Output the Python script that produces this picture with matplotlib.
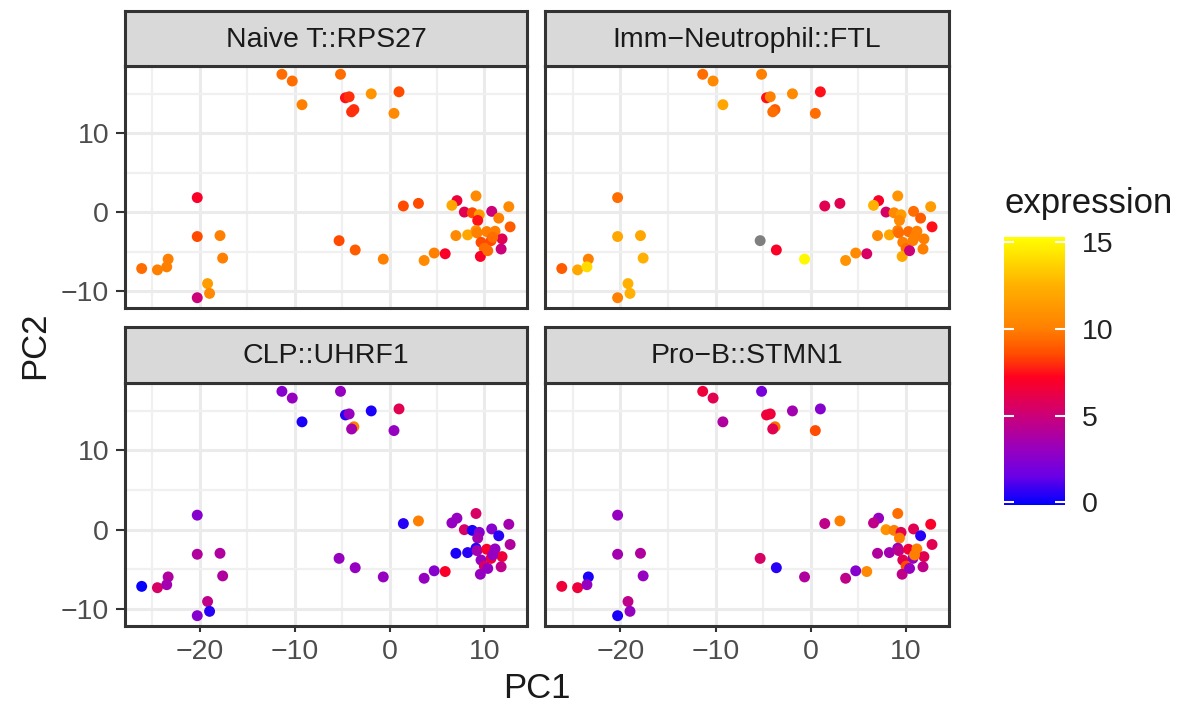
import numpy as np
import matplotlib
matplotlib.use("Agg")
import matplotlib.pyplot as plt
from matplotlib.colors import LinearSegmentedColormap, Normalize

# DATOS: coordenadas PCA de cada celula (igual en los 4 paneles)
# ==============================================================
pc1 = [-11.35, -10.26, -9.23, -5.17, -4.65, -4.26, -3.76, -4.0, -1.93, 1.0, 0.47,
       -20.28, -20.28, -17.88, -17.6, -26.14, -24.48, -23.35, -23.5, -19.19, -18.98, -20.28,
       -5.32, -3.62, -0.66, 1.46, 3.05, 3.65, 4.71, 5.87,
       9.12, 7.11, 6.58, 7.89, 8.73, 9.47, 9.3, 10.78, 12.58, 11.52, 12.72, 7.0, 8.24,
       9.12, 9.23, 10.25, 11.13, 11.87, 10.71, 9.65, 10.0, 11.77, 9.58, 10.88, 10.36]
pc2 = [17.45, 16.6, 13.6, 17.45, 14.47, 14.6, 12.98, 12.7, 14.98, 15.23, 12.5,
       1.83, -3.1, -2.98, -5.83, -7.15, -7.32, -5.96, -6.94, -9.06, -10.3, -10.85,
       -3.62, -4.8, -5.96, 0.77, 1.1, -6.13, -5.19, -5.28,
       2.04, 1.45, 0.85, 0.0, -0.09, -0.34, -1.06, 0.09, 0.68, -0.77, -1.87, -2.98, -2.89,
       -2.34, -2.64, -2.47, -2.43, -3.4, -3.62, -3.83, -4.6, -4.68, -5.62, -3.19, -4.89]

# expresion por gen (NaN = sin dato, gris)
expr_rps27 = [9.5, 9.5, 10, 9.5, 7.5, 8, 8, 8, 11, 8.5, 10.5,
              7, 8.5, 10, 10, 9.5, 10, 10, 10, 11.5, 10.5, 5,
              8.5, 9, 10, 8.5, 8.5, 10.5, 10, 7,
              10.5, 6.5, 12, 6, 8.5, 11.5, 7.5, 5, 10.5, 10, 9, 10.5, 12,
              11, 10, 10, 10, 6, 8.5, 8.5, 9.5, 5, 7, 9.5, 9.5]
expr_ftl = [9.5, 10.5, 12, 10, 7.5, 10, 9, 9.5, 10.5, 7.5, 9.5,
            9.5, 12, 12, 12.5, 9, 12, 10, 14, 12.5, 12.5, 10,
            np.nan, 7, 15, 6, 6, 11, 10.5, 5.5,
            11, 7, 12.5, 5.5, 10.5, 11.5, 10.5, 9.5, 11.5, 9, 7.5, 10.5, 12,
            10, 9.5, 9.5, 10, 10, 10, 10, 9.5, 10, 12, 10, 5]
expr_uhrf1 = [2.5, 3, 0.3, 3, 0.5, 3, 10, 3.5, 0.3, 6, 3,
              2.5, 4, 4, 4, 0, 5.5, 4, 3.5, 4.5, 0.5, 2.5,
              3, 3, 3, 0.5, 10, 3, 2.5, 7,
              5.5, 3, 3, 5.5, 0.3, 2.5, 3.5, 2.5, 3.5, 0.5, 4, 0.3, 0.5,
              0.5, 3.5, 7, 3, 6.5, 6.5, 3, 5.5, 4.5, 3, 3, 3]
expr_stmn1 = [6.5, 6, 4, 2, 6.5, 6.5, 9.5, 6, 3.5, 2.5, 8.5,
              3, 3.5, 4, 3, 6.5, 6.5, 0.3, 3, 4.5, 3, 0.3,
              5.5, 0.5, 4, 4.5, 10, 4.5, 2.5, 10.5,
              9.5, 3, 4.5, 11, 10, 6, 10, 6, 7, 0.5, 6, 4, 3.5,
              3, 4.5, 6.5, 10, 6, 3, 6, 8.5, 4.5, 4.5, 10, 3]

titulos = ["Naive T::RPS27", "Imm\u2212Neutrophil::FTL", "CLP::UHRF1", "Pro\u2212B::STMN1"]
expresiones = [expr_rps27, expr_ftl, expr_uhrf1, expr_stmn1]

# ESCALA DE COLOR
# ===============
vmin, vmax = -0.15, 15.3
anclas = [(-0.15, "#0000FF"), (1.5, "#6A00E6"), (3.0, "#9600C0"), (5.0, "#CC0078"),
          (7.2, "#FF0020"), (8.5, "#FF4A00"), (10.0, "#FF7F00"), (12.5, "#FFB000"),
          (15.3, "#FFFF00")]
cmap = LinearSegmentedColormap.from_list(
    "expr", [((v - vmin) / (vmax - vmin), c) for v, c in anclas])
norm = Normalize(vmin=vmin, vmax=vmax)

W, H = 1192, 706
plt.rcParams["font.family"] = ["Liberation Sans", "DejaVu Sans"]
fig = plt.figure(figsize=(W / 100, H / 100), dpi=100)


def caja(l, t, r, b):
    return [l / W, 1 - b / H, (r - l) / W, (b - t) / H]


paneles = [(125, 66, 527, 308), (545, 66, 949, 308),
           (125, 383, 527, 626), (545, 383, 949, 626)]
tiras = [(125, 11, 527, 66), (545, 11, 949, 66),
         (125, 327, 527, 383), (545, 327, 949, 383)]

x = np.array(pc1)
y = np.array(pc2)

for i in range(4):
    ax = fig.add_axes(caja(*paneles[i]))
    e = np.array(expresiones[i], dtype=float)
    ok = ~np.isnan(e)
    ax.scatter(x[~ok], y[~ok], s=62, c="#7F7F7F", edgecolors="none", zorder=3)
    ax.scatter(x[ok], y[ok], s=62, c=e[ok], cmap=cmap, norm=norm,
               edgecolors="none", zorder=3)
    ax.set_xlim(-27.9, 14.5)
    ax.set_ylim(-12.15, 18.5)
    ax.set_xticks([-20, -10, 0, 10])
    ax.set_xticks([-25, -15, -5, 5], minor=True)
    ax.set_yticks([-10, 0, 10])
    ax.set_yticks([-5, 5, 15], minor=True)
    ax.grid(which="major", color="#EBEBEB", lw=2.2, zorder=0)
    ax.grid(which="minor", color="#F0F0F0", lw=1.6, zorder=0)
    ax.set_axisbelow(True)
    for s in ax.spines.values():
        s.set_color("#333333")
        s.set_linewidth(2.2)
    ax.tick_params(which="minor", length=0)
    ax.tick_params(axis="x", length=4.5, width=1.5, color="#333333",
                   labelsize=20.5, labelcolor="#4D4D4D", pad=5)
    ax.tick_params(axis="y", length=6.5, width=1.5, color="#333333",
                   labelsize=20.5, labelcolor="#4D4D4D", pad=5)
    if i in (0, 1):
        ax.tick_params(axis="x", bottom=False, labelbottom=False)
    if i in (1, 3):
        ax.tick_params(axis="y", left=False, labelleft=False)

    st = fig.add_axes(caja(*tiras[i]))
    st.set_facecolor("#D9D9D9")
    st.set_xticks([])
    st.set_yticks([])
    for s in st.spines.values():
        s.set_color("#333333")
        s.set_linewidth(2.2)
    st.text(0.5, 0.48, titulos[i], ha="center", va="center",
            fontsize=20.5, color="#1A1A1A", transform=st.transAxes)

# barra de color
cax = fig.add_axes(caja(1004, 237, 1065, 505))
sm = plt.cm.ScalarMappable(cmap=cmap, norm=norm)
cb = fig.colorbar(sm, cax=cax, ticks=[0, 5, 10, 15])
cb.outline.set_visible(False)
cax.tick_params(direction="in", length=7, width=1.5, color="white",
                left=True, right=True, labelsize=20.5, labelcolor="#222222", pad=12)

fig.text(1005 / W, 1 - 203 / H, "expression", ha="left", va="center",
         fontsize=25, color="#1A1A1A")
fig.text(537 / W, 1 - 688 / H, "PC1", ha="center", va="center",
         fontsize=25, color="#1A1A1A")
fig.text(35 / W, 1 - 345 / H, "PC2", ha="center", va="center",
         fontsize=25, color="#1A1A1A", rotation=90)

plt.savefig("out.png", dpi=100)
